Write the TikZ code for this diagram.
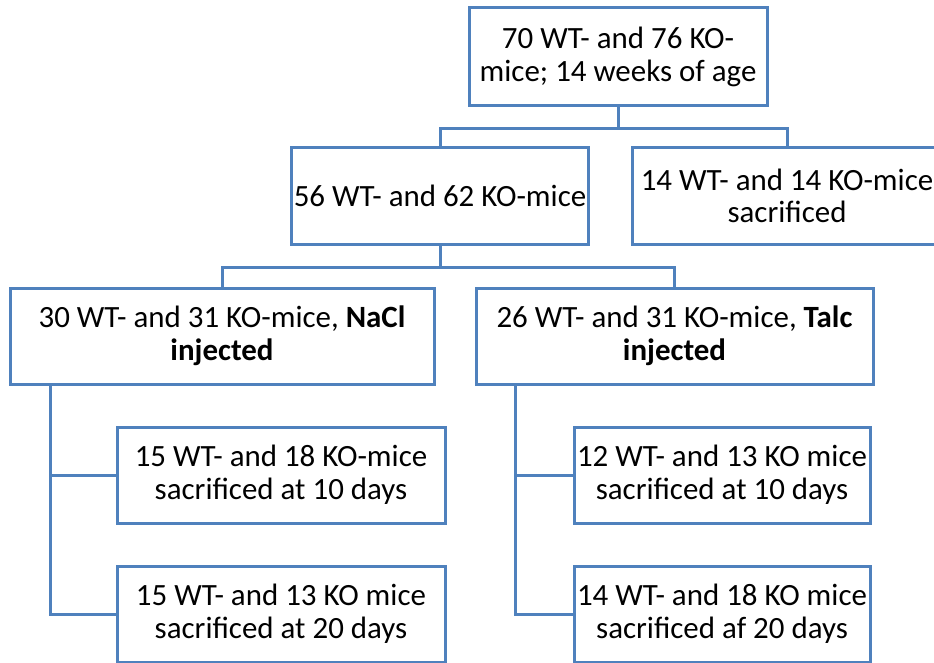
\documentclass[tikz,border=0pt]{standalone}
\usepackage{fontspec}
\setmainfont{Carlito}
\usetikzlibrary{
    positioning,
    calc
}
\definecolor{boxblue}{RGB}{79,129,189}
\tikzset{
    % --- Cohort box (one group of mice) ---
    group/.style = {
        rectangle, draw=boxblue, line width=2.25pt,
        fill=white, align=center, inner sep=2pt,
        font=\fontsize{23.2}{24.5}\selectfont
    },
    % --- Box size, given in pixels of the sheet ---
    group size/.style 2 args = {
        minimum width=#1*0.75pt, minimum height=#2*0.75pt
    },
    % --- Tree connector ---
    link/.style = {
        draw=boxblue, line width=2.25pt
    }
}

\begin{document}
\begin{tikzpicture}[
    x=0.75pt, y=-0.75pt
]

% ---------------------------------------------------------
% Frame of the sheet
% ---------------------------------------------------------
\useasboundingbox (0,0) rectangle (934,663);
\clip (0,0) rectangle (934,663);

% ---------------------------------------------------------
% 1. Start cohort and first split
% ---------------------------------------------------------
\node[group, group size={298}{98}] (Top) at (618, 57)
    {70 WT- and 76 KO-\\mice; 14 weeks of age};

\node[group, group size={294}{96}] (Mice) at (440, 196)
    {56 WT- and 62 KO-mice};
\node[group, group size={310}{96}] (Sacr) at (787, 196)
    {14 WT- and 14 KO-mice\\sacrificed};

% ---------------------------------------------------------
% 2. Injection groups
% ---------------------------------------------------------
\node[group, group size={424}{96}] (NaCl) at (222, 336)
    {30 WT- and 31 KO-mice, \textbf{NaCl}\\\textbf{injected}};
\node[group, group size={397}{96}] (Talc) at (674.5, 336)
    {26 WT- and 31 KO-mice, \textbf{Talc}\\\textbf{injected}};

% ---------------------------------------------------------
% 3. Time points
% ---------------------------------------------------------
\node[group, group size={328}{96}] (NaclTen) at (281, 475)
    {15 WT- and 18 KO-mice\\sacrificed at 10 days};
\node[group, group size={328}{96}] (NaclTwenty) at (281, 614)
    {15 WT- and 13 KO mice\\sacrificed at 20 days};

\node[group, group size={296}{96}] (TalcTen) at (722, 475)
    {12 WT- and 13 KO mice\\sacrificed at 10 days};
\node[group, group size={296}{96}] (TalcTwenty) at (722, 614)
    {14 WT- and 18 KO mice\\sacrificed af 20 days};

% ---------------------------------------------------------
% 4. Connectors
% ---------------------------------------------------------
\draw[link] (Top.south) -- ++(0,21) coordinate (SplitTop);
\draw[link] (SplitTop) -| (Mice.north);
\draw[link] (SplitTop) -| (Sacr.north);

\draw[link] (Mice.south) -- ++(0,22) coordinate (SplitMice);
\draw[link] (SplitMice) -| (NaCl.north);
\draw[link] (SplitMice) -| (Talc.north);

\coordinate (TrunkNaCl) at ($(NaCl.south west)+(42,0)$);
\draw[link] (TrunkNaCl) |- (NaclTen.west);
\draw[link] (TrunkNaCl) |- (NaclTwenty.west);

\coordinate (TrunkTalc) at ($(Talc.south west)+(41,0)$);
\draw[link] (TrunkTalc) |- (TalcTen.west);
\draw[link] (TrunkTalc) |- (TalcTwenty.west);

\end{tikzpicture}
\end{document}
